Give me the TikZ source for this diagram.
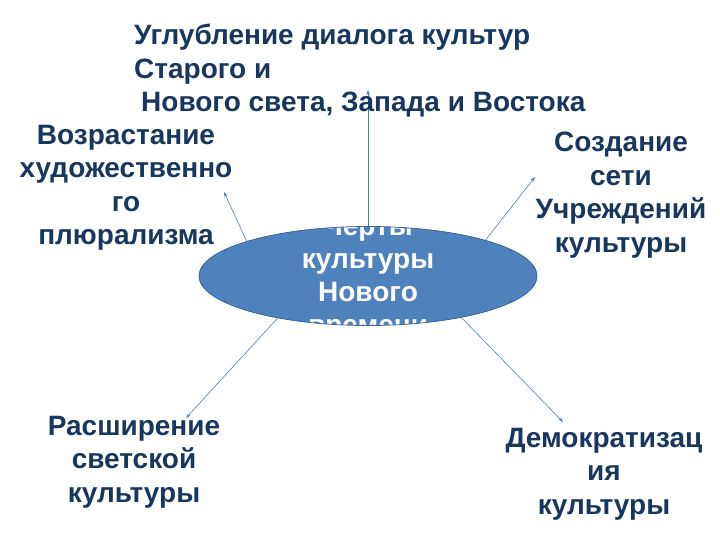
\documentclass[tikz,border=0pt]{standalone}
\usepackage{fontspec}
\setmainfont{Liberation Sans}
\usetikzlibrary{shapes.geometric,arrows.meta}
\definecolor{ovalblue}{HTML}{4F81BD}
\definecolor{ovalline}{HTML}{3A64A0}
\definecolor{rayblue}{HTML}{4A7EBB}
\definecolor{labelnavy}{HTML}{17375E}

\begin{document}
\begin{tikzpicture}[x=1pt,y=-1pt,
    labeltext/.style={text=labelnavy,font=\fontsize{28}{33.5}\selectfont\bfseries,align=center,inner sep=0pt},
    ray/.style={rayblue,line width=0.6pt,-{Stealth[length=5pt,width=3.5pt]}}]

	\useasboundingbox (0,0) rectangle (720,540);

	%% central oval, its text is cut by the border
	\node[ellipse,draw=ovalline,line width=0.8pt,fill=ovalblue,
	      minimum width=338pt,minimum height=99pt,inner sep=0pt,
	      path picture={\node[text=white,font=\fontsize{28}{33}\selectfont\bfseries,align=center]
	        at ([yshift=-2pt]path picture bounding box.center) {Черты\\культуры\\Нового\\времени};}]
	  (core) at (368,276) {};

	%% free ends of the rays
	\coordinate (tipN) at (368,90);
	\coordinate (tipNW) at (224,192);
	\coordinate (tipNE) at (535,177);
	\coordinate (tipSW) at (186,418);
	\coordinate (tipSE) at (563,422);

	\draw[ray] (core.north) -- (tipN);
	\draw[ray] (core.164) -- (tipNW);
	\draw[ray] (core.17) -- (tipNE);
	\draw[ray] (core.205) -- (tipSW);
	\draw[ray] (core.336) -- (tipSE);

	%% labels
	\node[labeltext,align=left,anchor=west] (dialog) at (134,71)
	  {Углубление диалога культур\\Старого и\\\hspace*{0.25em}Нового света, Запада и Востока};
	\node[labeltext] (plural) at (126,188) {Возрастание\\художественно\\го\\плюрализма};
	\node[labeltext] (network) at (621,195) {Создание\\сети\\Учреждений\\культуры};
	\node[labeltext] (secular) at (134,462) {Расширение\\светской\\культуры};
	\node[labeltext] (democ) at (604,474) {Демократизац\\ия\\культуры};
\end{tikzpicture}
\end{document}
